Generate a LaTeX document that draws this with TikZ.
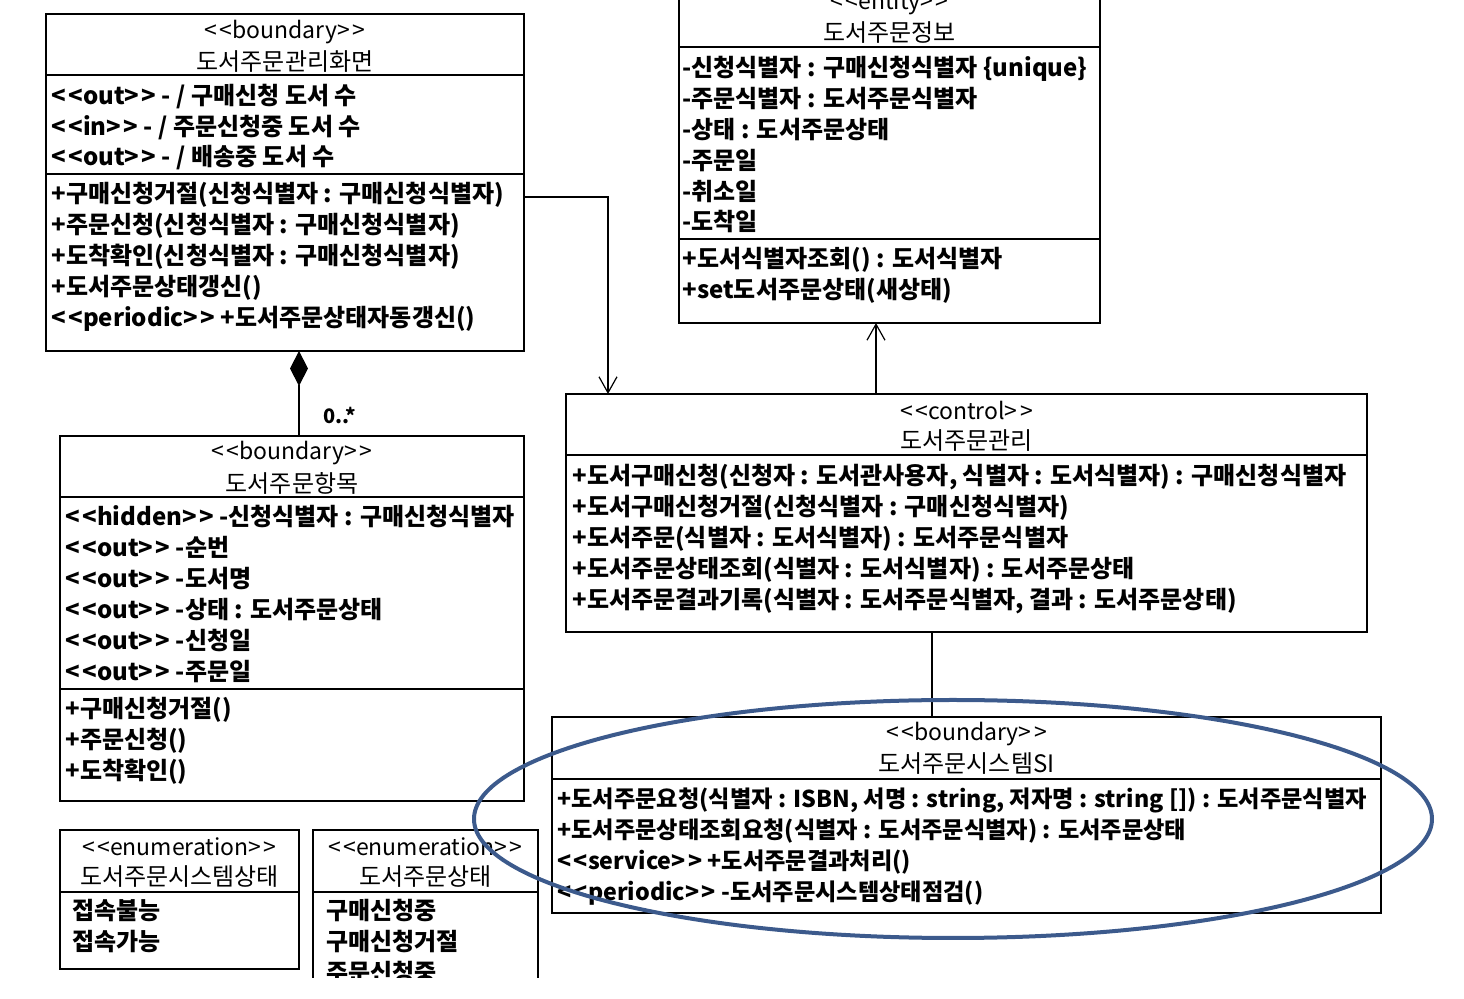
\documentclass[tikz,border=0pt]{standalone}
\usepackage{fontspec}
\setmainfont{Noto Sans CJK KR}
\usepackage{tikz}
\usetikzlibrary{arrows.meta,calc,fit,positioning,quotes}
\definecolor{hlblue}{RGB}{60,90,140}
\newcommand{\st}[1]{<\kern1.2pt<#1>\kern1.2pt>}
\tikzset{
	cls/.style={draw, rectangle, inner sep=0pt, outer sep=0pt, line width=.75pt},
	stereo/.style={inner sep=0pt, font=\fontsize{11.5}{13}\selectfont},
	clsname/.style={inner sep=0pt, font=\fontsize{12}{14}\selectfont},
	member/.style={anchor=west, inner sep=0pt, text height=.8em, text depth=.2em, yshift=-1.5pt,
		font=\fontsize{12}{14}\selectfont\bfseries},
	compline/.style={line width=.75pt},
	nav/.style={line width=.6pt, -{Straight Barb[length=8pt,width=9pt]}},
	comp/.style={line width=.6pt, {Diamond[length=17.5pt,width=9pt]}-},
	hilite/.style={draw=hlblue, line width=2pt}
}

\begin{document}
\begin{tikzpicture}[x=.5pt,y=-.5pt]
\useasboundingbox (0,0) rectangle (1464,999);
\begin{scope}
\clip (0,0) rectangle (1464,978);
% boundary: screen
\node[cls, fit={(46,14) (524,351)}] (screen) {};
\node[stereo] at (screen.north |- 0,32) {\st{boundary}};
\node[clsname] at (screen.north |- 0,62) {도서주문관리화면};
\foreach \y in {75,174} \draw[compline] (screen.west |- 0,\y) -- (screen.east |- 0,\y);
\foreach \m [count=\i from 0, evaluate=\i as \y using 96+30.5*\i] in
	{{\st{out} - / 구매신청 도서 수}, {\st{in} - / 주문신청중 도서 수}, {\st{out} - / 배송중 도서 수}}
	\node[member] at (51,\y) {\m};
\foreach \m [count=\i from 0, evaluate=\i as \y using 194+31*\i] in
	{{+구매신청거절(신청식별자 : 구매신청식별자)}, {+주문신청(신청식별자 : 구매신청식별자)},
	 {+도착확인(신청식별자 : 구매신청식별자)}, {+도서주문상태갱신()}, {\st{periodic} +도서주문상태자동갱신()}}
	\node[member] at (51,\y) {\m};
% entity: order info
\node[cls, fit={(679,-20) (1100,323)}] (info) {};
\node[stereo] at (info.north |- 0,3) {\st{entity}};
\node[clsname] at (info.north |- 0,33) {도서주문정보};
\foreach \y in {47,239} \draw[compline] (info.west |- 0,\y) -- (info.east |- 0,\y);
\foreach \m [count=\i from 0, evaluate=\i as \y using 68+30.8*\i] in
	{{-신청식별자 : 구매신청식별자 \{unique\}}, {-주문식별자 : 도서주문식별자}, {-상태 : 도서주문상태},
	 {-주문일}, {-취소일}, {-도착일}}
	\node[member] at (682,\y) {\m};
\foreach \m [count=\i from 0, evaluate=\i as \y using 259+31*\i] in
	{{+도서식별자조회() : 도서식별자}, {+set도서주문상태(새상태)}}
	\node[member] at (682,\y) {\m};
% control
\node[cls, fit={(566,394) (1367,632)}] (ctl) {};
\node[stereo] at (ctl.north |- 0,411) {\st{control}};
\node[clsname] at (ctl.north |- 0,441) {도서주문관리};
\draw[compline] (ctl.west |- 0,455) -- (ctl.east |- 0,455);
\foreach \m [count=\i from 0, evaluate=\i as \y using 476+31*\i] in
	{{+도서구매신청(신청자 : 도서관사용자, 식별자 : 도서식별자) : 구매신청식별자},
	 {+도서구매신청거절(신청식별자 : 구매신청식별자)}, {+도서주문(식별자 : 도서식별자) : 도서주문식별자},
	 {+도서주문상태조회(식별자 : 도서식별자) : 도서주문상태},
	 {+도서주문결과기록(식별자 : 도서주문식별자, 결과 : 도서주문상태)}}
	\node[member] at (572,\y) {\m};
% boundary: order item
\node[cls, fit={(60,436) (524,801)}] (item) {};
\node[stereo] at (item.north |- 0,453) {\st{boundary}};
\node[clsname] at (item.north |- 0,483) {도서주문항목};
\foreach \y in {497,689} \draw[compline] (item.west |- 0,\y) -- (item.east |- 0,\y);
\foreach \m [count=\i from 0, evaluate=\i as \y using 517+31*\i] in
	{{\st{hidden} -신청식별자 : 구매신청식별자}, {\st{out} -순번}, {\st{out} -도서명},
	 {\st{out} -상태 : 도서주문상태}, {\st{out} -신청일}, {\st{out} -주문일}}
	\node[member] at (65,\y) {\m};
\foreach \m [count=\i from 0, evaluate=\i as \y using 709+31*\i] in
	{{+구매신청거절()}, {+주문신청()}, {+도착확인()}}
	\node[member] at (65,\y) {\m};
% boundary: system interface
\node[cls, fit={(552,717) (1381,913)}] (si) {};
\node[stereo] at (si.north |- 0,734) {\st{boundary}};
\node[clsname] at (si.north |- 0,764) {도서주문시스템SI};
\draw[compline] (si.west |- 0,779) -- (si.east |- 0,779);
\foreach \m [count=\i from 0, evaluate=\i as \y using 799+30.7*\i] in
	{{+도서주문요청(식별자 : ISBN, 서명 : string, 저자명 : string []) : 도서주문식별자},
	 {+도서주문상태조회요청(식별자 : 도서주문식별자) : 도서주문상태},
	 {\st{service} +도서주문결과처리()}, {\st{periodic} -도서주문시스템상태점검()}}
	\node[member, font=\fontsize{11.6}{14}\selectfont\bfseries] at (557,\y) {\m};
% enumerations
\node[cls, fit={(60,830) (299,969)}] (sysstate) {};
\node[stereo] at (sysstate.north |- 0,847) {\st{enumeration}};
\node[clsname] at (sysstate.north |- 0,877) {도서주문시스템상태};
\draw[compline] (sysstate.west |- 0,892) -- (sysstate.east |- 0,892);
\foreach \m [count=\i from 0, evaluate=\i as \y using 911+31*\i] in {접속불능, 접속가능}
	\node[member] at (72,\y) {\m};
\node[cls, fit={(313,830) (538,1010)}] (ordstate) {};
\node[stereo] at (ordstate.north |- 0,847) {\st{enumeration}};
\node[clsname] at (ordstate.north |- 0,877) {도서주문상태};
\draw[compline] (ordstate.west |- 0,892) -- (ordstate.east |- 0,892);
\foreach \m [count=\i from 0, evaluate=\i as \y using 911+31*\i] in {구매신청중, 구매신청거절, 주문신청중}
	\node[member] at (326,\y) {\m};
% connectors
\coordinate (infoport) at ($(info.south)+(-13.5,0)$);
\coordinate (scrport) at ($(screen.south)+(14,0)$);
\coordinate (ctlport) at ($(ctl.south)+(-34.5,0)$);
\draw[nav] ([yshift=-7.25pt]screen.east) -| ($(ctl.north west)+(42,0)$);
\draw[nav] (infoport |- ctl.north) -- (infoport);
\draw[comp] (scrport) to ["0..*" {pos=1, anchor=south west, xshift=12pt, yshift=6pt,
	inner sep=0pt, font=\fontsize{10}{12}\selectfont\bfseries}] (scrport |- item.north);
\draw[compline] (ctlport) -- (ctlport |- si.north);
% highlight
\draw[hilite] (953,819) ellipse [x radius=479, y radius=119];
\end{scope}
\end{tikzpicture}
\end{document}
